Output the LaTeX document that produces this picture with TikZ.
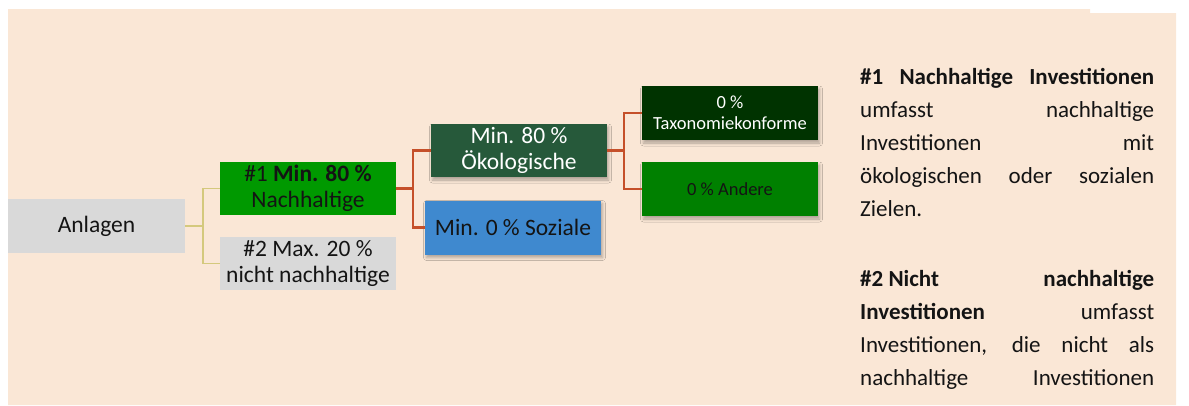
\documentclass[tikz,border=0pt]{standalone}
\usepackage{fontspec}
\setmainfont{Carlito}
\usetikzlibrary{shadows.blur}
\definecolor{bgpeach}{RGB}{250,231,214}
\definecolor{boxgrey}{RGB}{217,217,217}
\definecolor{greenA}{RGB}{0,153,0}
\definecolor{greenOko}{RGB}{38,89,58}
\definecolor{blueSoz}{RGB}{63,137,207}
\definecolor{greenTax}{RGB}{0,51,0}
\definecolor{greenAnd}{RGB}{0,128,0}
\definecolor{lineyellow}{RGB}{212,201,125}
\definecolor{linered}{RGB}{197,80,42}
\definecolor{txt}{RGB}{20,20,20}
\tikzset{
  box/.style={minimum width=176pt, minimum height=54pt, inner sep=0pt, align=center,
    font=\fontsize{23.5}{26.5}\selectfont, text=txt},
  smallbox/.style={box, font=\fontsize{18.5}{21.3}\selectfont},
  shad/.style={blur shadow={shadow xshift=1.5pt, shadow yshift=-3pt, shadow blur radius=3pt, shadow opacity=30}},
  yline/.style={draw=lineyellow, line width=1.8pt},
  rline/.style={draw=linered, line width=2.2pt},
}
\begin{document}
\begin{tikzpicture}[x=1pt,y=-1pt]
\useasboundingbox (0,0) rectangle (1189,405);
\fill[bgpeach] (8,9) -- (1090,9) -- (1090,13) -- (1176,13) -- (1176,405) -- (8,405) -- cycle;

\node[box, fill=boxgrey, minimum width=177pt] (anl) at (96.5,226) {Anlagen};
\node[box, fill=greenA, minimum height=53pt] (n1) at (308,188.5) {\#1 \textbf{Min. 80 \%}\\Nachhaltige};
\node[box, fill=boxgrey, minimum height=53pt] (n2) at (308,263.5) {\#2 Max. 20 \%\\nicht nachhaltige};
\node[box, shad, fill=greenOko, text=white, minimum height=53pt] (oko) at (519,150.5) {Min. 80 \%\\Ökologische};
\node[box, shad, fill=blueSoz] (soz) at (513,227.5) {Min. 0 \% Soziale};
\node[smallbox, shad, fill=greenTax, text=white] (tax) at (730,113) {0 \%\\Taxonomiekonforme};
\node[smallbox, shad, fill=greenAnd] (and) at (730,189) {0 \% Andere};

\draw[yline] (anl.east) -- ++(18,0) |- (n1.west);
\draw[yline] (anl.east) -- ++(18,0) |- (n2.west);
\draw[rline] (n1.east) -- ++(17,0) |- (oko.west);
\draw[rline] (n1.east) -- ++(17,0) |- (soz.west);
\draw[rline] (oko.east) -- ++(17,0) |- (tax.west);
\draw[rline] (oko.east) -- ++(17,0) |- (and.west);

\node[anchor=base west, inner sep=0pt, text=txt] (desc) at (860,84) {\parbox[t]{294pt}{%
\fontsize{23}{33}\selectfont\parindent=0pt\tolerance=10000\hbadness=10000
\textbf{\#1 Nachhaltige Investitionen}\linebreak umfasst nachhaltige\linebreak Investitionen mit\linebreak ökologischen oder sozialen\linebreak Zielen.\par
\vspace{37pt}
\textbf{\#2\hbox{ }Nicht nachhaltige}\linebreak \textbf{Investitionen} umfasst\linebreak Investitionen, die nicht als\linebreak nachhaltige Investitionen\parfillskip=0pt\par}};
\end{tikzpicture}
\end{document}
